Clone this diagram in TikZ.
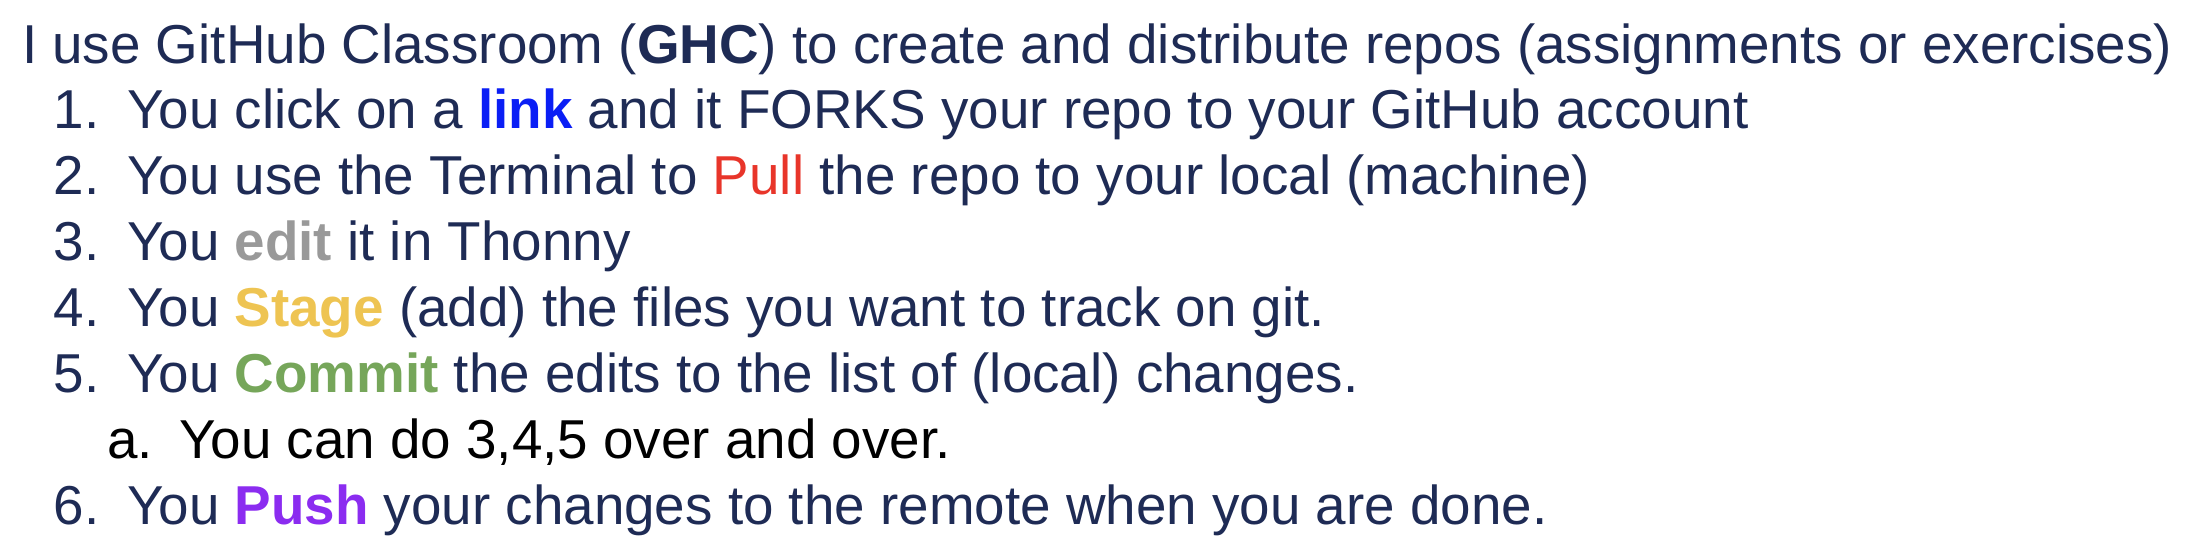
\documentclass[tikz,border=0pt]{standalone}
\usepackage{fontspec}
\setmainfont{Liberation Sans}
\definecolor{navy}{HTML}{1E2B55}
\definecolor{linkblue}{HTML}{0A1EF5}
\definecolor{pullred}{HTML}{E8352A}
\definecolor{editgray}{HTML}{999999}
\definecolor{stageyellow}{HTML}{EEC452}
\definecolor{commitgreen}{HTML}{76A65A}
\definecolor{pushpurple}{HTML}{8B2CF0}
\begin{document}
\begin{tikzpicture}[x=0.5pt,y=-0.5pt,
  txt/.style={anchor=base west,inner sep=0pt,outer sep=0pt,text=navy,font=\fontsize{27.4pt}{33pt}\selectfont},
  sub/.style={txt,text=black}]
\useasboundingbox (0,0) rectangle (2190,546);
\node[txt] (head) at (22,63) {I use GitHub Classroom (\textbf{GHC}) to create and distribute repos (assignments or exercises)};
\node[txt] (n1) at (54,128.9) {1.};
\node[txt] (t1) at (127,128.9) {You click on a \textbf{\textcolor{linkblue}{link}} and it FORKS your repo to your GitHub account};
\node[txt] (n2) at (54,194.7) {2.};
\node[txt] (t2) at (127,194.7) {You use the Terminal to \textcolor{pullred}{Pull} the repo to your local (machine)};
\node[txt] (n3) at (54,260.6) {3.};
\node[txt] (t3) at (127,260.6) {You \textbf{\textcolor{editgray}{edit}} it in Thonny};
\node[txt] (n4) at (54,326.4) {4.};
\node[txt] (t4) at (127,326.4) {You \textbf{\textcolor{stageyellow}{Stage}} (add) the files you want to track on git.};
\node[txt] (n5) at (54,392.3) {5.};
\node[txt] (t5) at (127,392.3) {You \textbf{\textcolor{commitgreen}{Commit}} the edits to the list of (local) changes.};
\node[sub] (na) at (107,458.1) {a.};
\node[sub] (ta) at (179,458.1) {You can do 3,4,5 over and over.};
\node[txt] (n6) at (54,524) {6.};
\node[txt] (t6) at (127,524) {You \textbf{\textcolor{pushpurple}{Push}} your changes to the remote when you are done.};
\end{tikzpicture}
\end{document}
